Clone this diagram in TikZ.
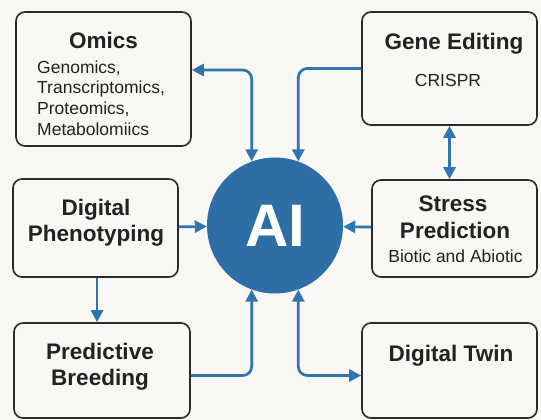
\documentclass[tikz,border=0pt]{standalone}
\usepackage{fontspec}
\setmainfont{Liberation Sans}
\usetikzlibrary{arrows.meta,calc}
\definecolor{bg}{HTML}{F8F7F3}
\definecolor{aiblue}{HTML}{2E6EA6}
\definecolor{lineblue}{HTML}{3074B2}
\definecolor{boxline}{HTML}{2A2A2A}
\definecolor{txt}{HTML}{222222}
\begin{document}
\begin{tikzpicture}[x=1pt,y=-1pt,
  box/.style={draw=boxline, line width=1.6pt, rounded corners=9pt, fill=bg, inner sep=0pt},
  title/.style={font=\fontsize{22.5}{26}\selectfont\bfseries, text=txt, inner sep=0pt, anchor=base},
  sub/.style={font=\fontsize{17.5}{20.5}\selectfont, text=txt, inner sep=0pt, anchor=base},
  conn/.style={draw=lineblue, line width=2.7pt, rounded corners=9pt},
  tipe/.style={-{Triangle[length=12pt,width=12pt]}},
  tipb/.style={{Triangle[length=12pt,width=12pt]}-{Triangle[length=12pt,width=12pt]}}
]
\fill[bg] (0,0) rectangle (541,420);
\useasboundingbox (0,0) rectangle (541,420);

% boxes
\node[box, minimum width=175pt, minimum height=134pt] (omics) at (103.5,79) {};
\node[box, minimum width=175pt, minimum height=113pt] (gene) at (449.5,68.5) {};
\node[box, minimum width=165pt, minimum height=98pt] (dp) at (95.5,228) {};
\node[box, minimum width=165pt, minimum height=97pt] (stress) at (454.5,228.5) {};
\node[box, minimum width=176pt, minimum height=95pt] (pred) at (102,370.5) {};
\node[box, minimum width=175pt, minimum height=95pt] (twin) at (449.5,370.5) {};

% AI circle
\node[circle, fill=aiblue, minimum size=136pt, inner sep=0pt, text=white,
      font=\fontsize{60}{60}\selectfont\bfseries] (ai) at (275,225.5) {AI};

% texts
\node[title] (omicsT) at (103.5,48.5) {Omics};
\node[sub, anchor=base west] (om1) at (37,73.5) {Genomics,};
\node[sub, anchor=base west] (om2) at (37,94) {Transcriptomics,};
\node[sub, anchor=base west] (om3) at (37,114.5) {Proteomics,};
\node[sub, anchor=base west] (om4) at (37,135) {Metabolomiics};

\node[title] (geneT) at (454,50) {Gene Editing};
\node[sub] (geneS) at (448,86) {CRISPR};

\node[title] (dpT1) at (96,215) {Digital};
\node[title] (dpT2) at (96,241.5) {Phenotyping};

\node[title] (stT1) at (453,211.5) {Stress};
\node[title] (stT2) at (455,238.3) {Prediction};
\node[sub] (stS) at (455.5,262.7) {Biotic and Abiotic};

\node[title] (prT1) at (100,359.3) {Predictive};
\node[title] (prT2) at (100,385.7) {Breeding};

\node[title] (twT) at (451,361.5) {Digital Twin};

% connectors
\draw[conn, tipb] ([yshift=-1.5pt]omics.east |- gene.west) -| (ai.110);
\draw[conn, tipe] (gene.west) -| (ai.70);
\draw[conn, tipb] (gene.south) -- (gene.south |- stress.north);
\draw[conn, tipe] (dp) -- (ai);
\draw[conn, tipe] (stress) -- (ai);
\draw[conn, tipe] ([xshift=1.5pt]dp.south) -- ([xshift=1.5pt]dp.south |- pred.north);
\draw[conn, tipe] ([yshift=-5pt]pred.east) -| (ai.250);
\draw[conn, tipb] (ai.290) |- ([yshift=-5pt]twin.west);
\end{tikzpicture}
\end{document}
